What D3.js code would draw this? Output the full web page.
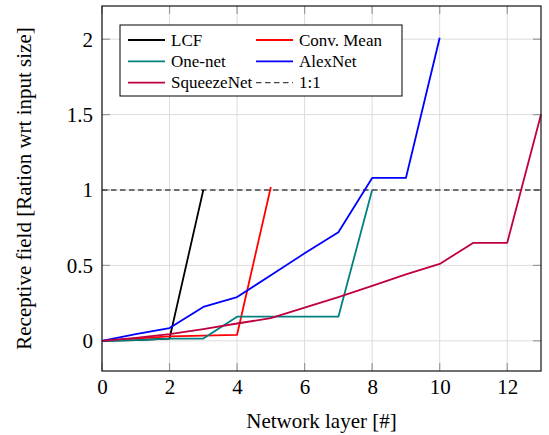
<!DOCTYPE html>
<html><head><meta charset="utf-8">
<script src="https://cdn.jsdelivr.net/npm/d3@7"></script>
</head><body style="margin:0">
<svg id="c" width="549" height="435"></svg>
<script>
const lcf = [0, 0.005, 0.015, 1.0];
const convMean = [0, 0.015, 0.03, 0.035, 0.04, 1.02];
const oneNet = [0, 0.005, 0.015, 0.015, 0.16, 0.16, 0.16, 0.16, 1.0];
const alexNet = [0, 0.045, 0.085, 0.225, 0.29, 0.435, 0.58, 0.72, 1.08, 1.08, 2.01];
const squeezeNet = [0, 0.02, 0.044, 0.077, 0.115, 0.15, 0.22, 0.29, 0.365, 0.44, 0.51, 0.65, 0.65, 1.5];
const seriesNames = ["LCF", "Conv. Mean", "One-net", "AlexNet", "SqueezeNet"];
const seriesColors = ["#000000", "#ff0000", "#008080", "#0000ff", "#bf0040"];
const xTicks = [0, 2, 4, 6, 8, 10, 12];
const yTicks = [0, 0.5, 1, 1.5, 2];
const refName = "1:1";
const refValue = 1;

const series = [lcf, convMean, oneNet, alexNet, squeezeNet];
const svg = d3.select("#c");
const L = 102, R = 541, T = 6, B = 371;
const x = d3.scaleLinear().domain([0, 13]).range([L, R]);
const y = d3.scaleLinear().domain([-0.2, 2.22]).range([B, T]);
const FF = "Liberation Serif";

// grid
const g = svg.append("g");
g.selectAll(".gx").data(xTicks).join("line")
  .attr("x1", d => x(d)).attr("x2", d => x(d)).attr("y1", T).attr("y2", B)
  .attr("stroke", "#dcdcdc").attr("stroke-width", 1);
g.selectAll(".gy").data(yTicks).join("line")
  .attr("y1", d => y(d)).attr("y2", d => y(d)).attr("x1", L).attr("x2", R)
  .attr("stroke", "#dcdcdc").attr("stroke-width", 1);

// tick marks (inside, all sides)
const tl = 8;
const tk = svg.append("g").attr("stroke", "#999").attr("stroke-width", 1.2);
xTicks.forEach(d => {
  tk.append("line").attr("x1", x(d)).attr("x2", x(d)).attr("y1", B).attr("y2", B - tl);
  tk.append("line").attr("x1", x(d)).attr("x2", x(d)).attr("y1", T).attr("y2", T + tl);
});
yTicks.forEach(d => {
  tk.append("line").attr("y1", y(d)).attr("y2", y(d)).attr("x1", L).attr("x2", L + tl);
  tk.append("line").attr("y1", y(d)).attr("y2", y(d)).attr("x1", R).attr("x2", R - tl);
});

// tick labels via d3 axes
const xa = svg.append("g").attr("transform", `translate(0,${B})`)
  .call(d3.axisBottom(x).tickValues(xTicks).tickSize(0).tickPadding(0).tickFormat(d3.format("d")));
xa.attr("font-family", null).attr("font-size", null);
xa.select(".domain").remove();
xa.selectAll("text").style("font-family", FF).style("font-size", "21px").attr("fill", "#000")
  .attr("dy", null).attr("y", 23);
const ya = svg.append("g").attr("transform", `translate(${L},0)`)
  .call(d3.axisLeft(y).tickValues(yTicks).tickSize(0).tickPadding(0).tickFormat(d => String(d)));
ya.attr("font-family", null).attr("font-size", null);
ya.select(".domain").remove();
ya.selectAll("text").style("font-family", FF).style("font-size", "21px").attr("fill", "#000")
  .attr("x", -9).attr("dy", "0.33em");

// reference line
svg.append("line").attr("x1", L).attr("x2", R).attr("y1", y(refValue)).attr("y2", y(refValue))
  .attr("stroke", "#444").attr("stroke-width", 1.4).attr("stroke-dasharray", "5.5,3.5");

// series
const line = d3.line().x((d, i) => x(i)).y(d => y(d));
series.forEach((s, k) => {
  svg.append("path").attr("d", line(s)).attr("fill", "none")
    .attr("stroke", seriesColors[k]).attr("stroke-width", 1.8).attr("stroke-linejoin", "round");
});

// frame
svg.append("rect").attr("x", L).attr("y", T).attr("width", R - L).attr("height", B - T)
  .attr("fill", "none").attr("stroke", "#111").attr("stroke-width", 1.2);

// axis titles
svg.append("text").attr("x", (L + R) / 2).attr("y", 428).attr("text-anchor", "middle")
  .style("font-family", FF).style("font-size", "21px").text("Network layer [#]");
svg.append("text").attr("transform", `translate(31,${(T + B) / 2}) rotate(-90)`).attr("text-anchor", "middle")
  .style("font-family", FF).style("font-size", "21px").text("Receptive field [Ration wrt input size]");

// legend
const lg = svg.append("g");
lg.append("rect").attr("x", 120).attr("y", 25).attr("width", 282).attr("height", 71)
  .attr("fill", "#fff").attr("stroke", "#000").attr("stroke-width", 1);
const entries = seriesNames.map((n, i) => ({name: n, color: seriesColors[i], dash: null}))
  .concat([{name: refName, color: "#444", dash: "5.5,3.5"}]);
entries.forEach((e, i) => {
  const col = i % 2, row = Math.floor(i / 2);
  const x0 = col === 0 ? 128 : 256;
  const yy = 40 + row * 21.3;
  lg.append("line").attr("x1", x0).attr("x2", x0 + 37).attr("y1", yy).attr("y2", yy)
    .attr("stroke", e.color).attr("stroke-width", e.dash ? 1.4 : 1.8)
    .attr("stroke-dasharray", e.dash);
  lg.append("text").attr("x", x0 + 43).attr("y", yy).attr("dy", "0.33em")
    .style("font-family", FF).style("font-size", "17px").text(e.name);
});
</script>
</body></html>
